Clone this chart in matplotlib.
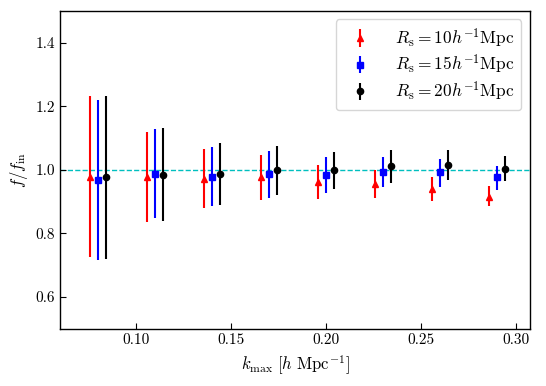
import numpy as np
import matplotlib
matplotlib.use("Agg")
import matplotlib.pyplot as plt

plt.rcParams['mathtext.fontset'] = 'cm'
plt.rcParams['font.family'] = 'serif'
plt.rcParams['font.serif'] = ['cmr10', 'DejaVu Serif']
plt.rcParams['axes.formatter.use_mathtext'] = True

kmax = [0.08, 0.11, 0.14, 0.17, 0.20, 0.23, 0.26, 0.29]

r10_val = [0.976, 0.976, 0.971, 0.976, 0.962, 0.957, 0.940, 0.916]
r10_up = [1.231, 1.119, 1.065, 1.047, 1.016, 1.000, 0.978, 0.950]
r10_lo = [0.726, 0.836, 0.880, 0.905, 0.908, 0.912, 0.903, 0.885]

r15_val = [0.968, 0.987, 0.979, 0.988, 0.983, 0.994, 0.992, 0.976]
r15_up = [1.220, 1.127, 1.072, 1.059, 1.041, 1.041, 1.033, 1.012]
r15_lo = [0.715, 0.848, 0.885, 0.913, 0.927, 0.945, 0.947, 0.938]

r20_val = [0.976, 0.985, 0.988, 0.999, 0.999, 1.012, 1.015, 1.002]
r20_up = [1.231, 1.131, 1.083, 1.075, 1.056, 1.062, 1.062, 1.042]
r20_lo = [0.721, 0.838, 0.890, 0.922, 0.940, 0.958, 0.968, 0.966]

labels = [r'$R_{\rm s}=10h^{-1}{\rm Mpc}$',
          r'$R_{\rm s}=15h^{-1}{\rm Mpc}$',
          r'$R_{\rm s}=20h^{-1}{\rm Mpc}$']

fig = plt.figure(figsize=(5.46, 3.86), dpi=100)
ax = fig.add_axes([0.11, 0.148, 0.861, 0.824])

ax.axhline(1.0, color='c', ls='--', lw=1.0, zorder=1)

series = [(r10_val, r10_up, r10_lo, 'r', '^', -0.004),
          (r15_val, r15_up, r15_lo, 'b', 's', 0.0),
          (r20_val, r20_up, r20_lo, 'k', 'o', 0.004)]
for (val, up, lo, c, m, off), lab in zip(series, labels):
    val = np.array(val); up = np.array(up); lo = np.array(lo)
    x = np.array(kmax) + off
    ax.errorbar(x, val, yerr=[val - lo, up - val], fmt=m, color=c,
                ms=4.5, elinewidth=1.5, capsize=0, label=lab, zorder=3)

ax.set_xlim(0.06, 0.3075)
ax.set_ylim(0.5, 1.5)
ax.set_xticks([0.10, 0.15, 0.20, 0.25, 0.30])
ax.set_xticklabels(['0.10', '0.15', '0.20', '0.25', '0.30'])
ax.set_yticks([0.6, 0.8, 1.0, 1.2, 1.4])
ax.set_yticklabels(['0.6', '0.8', '1.0', '1.2', '1.4'])
ax.tick_params(direction='in', labelsize=11, length=4)
for s in ax.spines.values():
    s.set_linewidth(1.0)

ax.set_xlabel(r'$k_{\max}\ [h\ {\rm Mpc}^{-1}]$', fontsize=12)
ax.set_ylabel(r'$f/f_{\rm in}$', fontsize=12)
ax.legend(loc='upper right', fontsize=12.5, handlelength=2.0,
          labelspacing=0.2, handletextpad=1.0)

fig.savefig('out.png', dpi=100)
